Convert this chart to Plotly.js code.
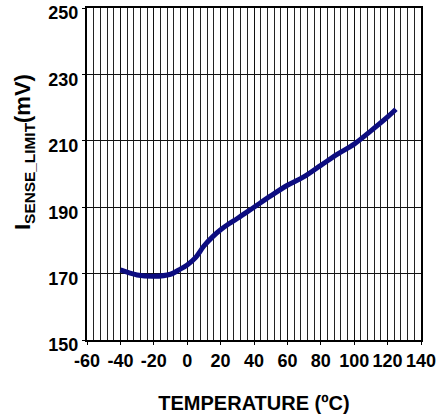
<!DOCTYPE html>
<html>
<head>
<meta charset="utf-8">
<script src="https://cdn.plot.ly/plotly-3.0.1.min.js"></script>
<style>html,body{margin:0;padding:0;background:#fff;}#chart{width:438px;height:415px;}</style>
</head>
<body>
<div id="chart"></div>
<script>
const temperature = [-40, -30, -20, -10, -5, 0, 5, 10, 15, 20, 25, 30, 40, 50, 60, 70, 80, 90, 100, 110, 120, 125];
const senseLimit = [171.1, 169.6, 169.2, 169.8, 171.1, 172.6, 174.8, 178.3, 181.0, 183.2, 185.0, 186.6, 190.0, 193.4, 196.6, 199.2, 202.6, 206.0, 209.0, 213.0, 217.2, 219.5];
const xTicks = [-60, -40, -20, 0, 20, 40, 60, 80, 100, 120, 140];
const yTicks = [150, 170, 190, 210, 230, 250];
const xTitle = 'TEMPERATURE (ºC)';
const yTitle = 'I<sub>SENSE_LIMIT</sub>(mV)';

const fontFam = 'Arial, "Liberation Sans", sans-serif';

Plotly.newPlot('chart', [{
  x: temperature,
  y: senseLimit,
  type: 'scatter',
  mode: 'lines',
  line: {color: '#0d0d80', width: 5, shape: 'spline', smoothing: 1},
  hoverinfo: 'skip'
}], {
  width: 438, height: 415,
  margin: {l: 87, r: 17, t: 8, b: 75},
  paper_bgcolor: '#fff', plot_bgcolor: '#fff',
  showlegend: false,
  xaxis: {
    range: [-60, 140], tickvals: xTicks, ticktext: xTicks.map(String),
    showgrid: true, gridcolor: '#111', gridwidth: 1,
    minor: {dtick: 4, tick0: -60, showgrid: true, gridcolor: '#222', gridwidth: 1, ticks: ''},
    ticks: 'outside', ticklen: 3, tickcolor: '#000', tickwidth: 1,
    showline: true, linecolor: '#000', linewidth: 2, mirror: true,
    zeroline: false, ticklabeloverflow: 'allow',
    tickfont: {family: fontFam, size: 18, color: '#000', weight: 'bold'},
    title: {text: xTitle, font: {family: fontFam, size: 20, color: '#000', weight: 'bold'}, standoff: 26}
  },
  yaxis: {
    range: [150, 250], tickvals: yTicks, ticktext: yTicks.map(String),
    showgrid: true, gridcolor: '#111', gridwidth: 1,
    ticks: 'outside', ticklen: 3, tickcolor: '#000', tickwidth: 1,
    showline: true, linecolor: '#000', linewidth: 2, mirror: true,
    zeroline: false, ticklabeloverflow: 'allow', ticklabelshift: 5,
    tickfont: {family: fontFam, size: 18, color: '#000', weight: 'bold'}
  },
  annotations: [{
    text: yTitle, textangle: -90, showarrow: false,
    xref: 'paper', yref: 'paper', x: 0, y: 0.5,
    xanchor: 'center', yanchor: 'middle', xshift: -63, yshift: 22,
    font: {family: fontFam, size: 22, color: '#000', weight: 'bold'}
  }]
}, {staticPlot: true});
</script>
</body>
</html>
